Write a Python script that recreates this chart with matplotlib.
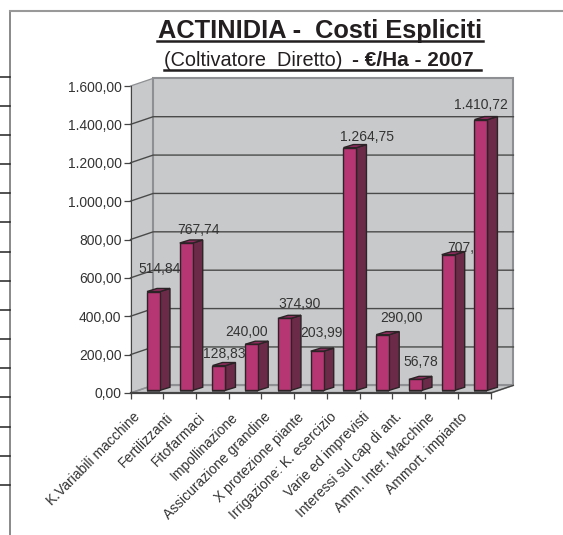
import matplotlib
matplotlib.use('Agg')
import matplotlib.pyplot as plt
from matplotlib.lines import Line2D
from matplotlib.transforms import ScaledTranslation

plt.rcParams['font.family'] = ['Liberation Sans', 'DejaVu Sans']

categories = ['K.Variabili macchine', 'Fertilizzanti', 'Fitofarmaci', 'Impollinazione',
              'Assicurazione grandine', 'X protezione piante', 'Irrigazione: K. esercizio',
              'Varie ed imprevisti', 'Interessi sul cap di ant.', 'Amm. Inter. Macchine',
              'Ammort. impianto']
values = [514.84, 767.74, 128.83, 240.00, 374.90, 203.99, 1264.75, 290.00, 56.78, 707.00, 1410.72]
value_labels = ['514,84', '767,74', '128,83', '240,00', '374,90', '203,99', '1.264,75',
                '290,00', '56,78', '707,00', '1.410,72']
y_ticks = [0, 200, 400, 600, 800, 1000, 1200, 1400, 1600]
y_tick_labels = ['0,00', '200,00', '400,00', '600,00', '800,00', '1.000,00', '1.200,00',
                 '1.400,00', '1.600,00']

# where each value label sits relative to the top of its bar, in pixels
label_offsets = [(6.5, 23), (12.75, 13), (5, 11.6), (-4.75, 12), (15.5, 14.4), (3.75, 18.2),
                 (17, 10.6), (19, 16.6), (5.5, 17.4), (20, 6.6), (-0.5, 14.6)]

W, H = 563, 535
TEXT = '#333333'
WALL = '#c8c9cb'
GRID = '#4a4a4a'
EDGE = '#8e8f92'
FRONT = '#b53672'
SIDE = '#6b2b48'
TOP = '#8f2c5e'
DARK = '#2b2326'

# depth of the fake 3d box and of the bars, in data units
wall_dx, wall_dy = 0.693, 40
bar_dx, bar_dy = 0.305, 16
bar_left, bar_width, bar_base = 0.504, 0.397, 14


def px_x(x):
    return x / W


def px_y(y):
    return 1 - y / H


fig = plt.figure(figsize=(W / 100, H / 100), dpi=100, facecolor='white')
ax = fig.add_axes([px_x(130.5), px_y(393), (490.7 - 130.5) / W, 307 / H])
ax.set_xlim(0, 11)
ax.set_ylim(0, 1600)
ax.patch.set_visible(False)
for s in ['top', 'right']:
    ax.spines[s].set_visible(False)
ax.spines['left'].set_color('#444444')
ax.spines['bottom'].set_color('#444444')
ax.spines['bottom'].set_linewidth(1.6)
ax.spines['left'].set_zorder(6)
ax.spines['bottom'].set_zorder(6)

# walls and floor
n = len(categories)
top = y_ticks[-1]
ax.fill([0, 0, wall_dx, wall_dx], [0, top, top + wall_dy, wall_dy], color=WALL, lw=0, clip_on=False, zorder=1)
ax.fill([wall_dx, wall_dx, n + wall_dx, n + wall_dx], [wall_dy, top + wall_dy, top + wall_dy, wall_dy],
        facecolor=WALL, edgecolor=EDGE, lw=1.5, clip_on=False, zorder=1)
ax.fill([0, n, n + wall_dx, wall_dx], [0, 0, wall_dy, wall_dy], facecolor=WALL, edgecolor=EDGE, lw=1.2,
        clip_on=False, zorder=1)

# gridlines on the wall
for t in y_ticks:
    if t == 0 or t == top:
        ax.plot([0, wall_dx], [t, t + wall_dy], color=EDGE, lw=0.9, clip_on=False, zorder=2)
        continue
    ax.plot([0, wall_dx, n + wall_dx], [t, t + wall_dy, t + wall_dy], color=GRID, lw=1, clip_on=False, zorder=2)
ax.plot([n, n + wall_dx], [0, wall_dy], color='#444444', lw=0.9, clip_on=False, zorder=2)

# value labels go under the bars, some get covered like in the original
for i, v in enumerate(values):
    ax.annotate(value_labels[i], xy=(i + bar_left + bar_width / 2, v + bar_base), xycoords='data',
                xytext=label_offsets[i], textcoords='offset pixels', ha='center', va='center',
                fontsize=10, color=TEXT, zorder=3, annotation_clip=False)

# bars
for i, v in enumerate(values):
    x0 = i + bar_left
    x1 = x0 + bar_width
    y0 = bar_base
    y1 = v + bar_base
    # dark shadow on the floor under the bar
    ax.bar(x0, bar_base, width=bar_width, bottom=0, align='edge', color='#5e5e60', lw=0, zorder=3)
    ax.bar(x0, v, width=bar_width, bottom=y0, align='edge', color=FRONT, edgecolor=DARK, lw=1, zorder=5,
           clip_on=False)
    ax.fill([x1, x1 + bar_dx, x1 + bar_dx, x1], [y0, y0 + bar_dy, y1 + bar_dy, y1], facecolor=SIDE,
            edgecolor=DARK, lw=1, zorder=4, clip_on=False)
    ax.fill([x0, x1, x1 + bar_dx, x0 + bar_dx], [y1, y1, y1 + bar_dy, y1 + bar_dy], facecolor=TOP,
            edgecolor=DARK, lw=1, zorder=4, clip_on=False)

ax.set_yticks(y_ticks, labels=y_tick_labels)
ax.tick_params(axis='y', length=7.5 * 0.72, width=0.9, color='#444444', labelsize=10, labelcolor=TEXT, pad=1)
ax.set_xticks(range(n + 1), labels=[])
ax.tick_params(axis='x', which='major', length=4, width=0.9, color='#444444')
ax.set_xticks([i + 0.5 for i in range(n)], labels=categories, minor=True)
ax.tick_params(axis='x', which='minor', length=0, pad=10, labelsize=10, labelcolor=TEXT)
# labels end a bit left of the category centre
shift = ScaledTranslation(-14 / 100, -3 / 100, fig.dpi_scale_trans)
for lab in ax.get_xticklabels(minor=True):
    lab.set_rotation(45)
    lab.set_ha('right')
    lab.set_va('top')
    lab.set_rotation_mode('anchor')
    lab.set_transform(lab.get_transform() + shift)

# page frame and stray ticks left of it
fig.add_artist(Line2D([px_x(10), px_x(10)], [px_y(11), 0], color='#808080', lw=1.3))
fig.add_artist(Line2D([px_x(10), 1], [px_y(11), px_y(11)], color='#999999', lw=1.5))
for y in [77, 106, 135, 164, 193, 222, 252, 281, 310, 339, 368, 397, 427, 456, 485]:
    fig.add_artist(Line2D([0, px_x(10)], [px_y(y), px_y(y)], color='#222222', lw=1.1))

# titles
title_col = '#231f20'
fig.text(px_x(320.5), px_y(38), 'ACTINIDIA -  Costi Espliciti', fontsize=18.3, fontweight='bold',
         color=title_col, ha='center', va='baseline')
fig.add_artist(Line2D([px_x(157), px_x(483)], [px_y(41), px_y(41)], color=title_col, lw=1.8))
fig.text(px_x(164.5), px_y(66), '(Coltivatore  Diretto)', fontsize=14.3, color=title_col, ha='left', va='baseline')
fig.text(px_x(352), px_y(66), '- €/Ha - 2007', fontsize=15, fontweight='bold', color=title_col,
         ha='left', va='baseline')
fig.add_artist(Line2D([px_x(164), px_x(481)], [px_y(69.5), px_y(69.5)], color=title_col, lw=1.8))

fig.savefig('out.png', dpi=100)
